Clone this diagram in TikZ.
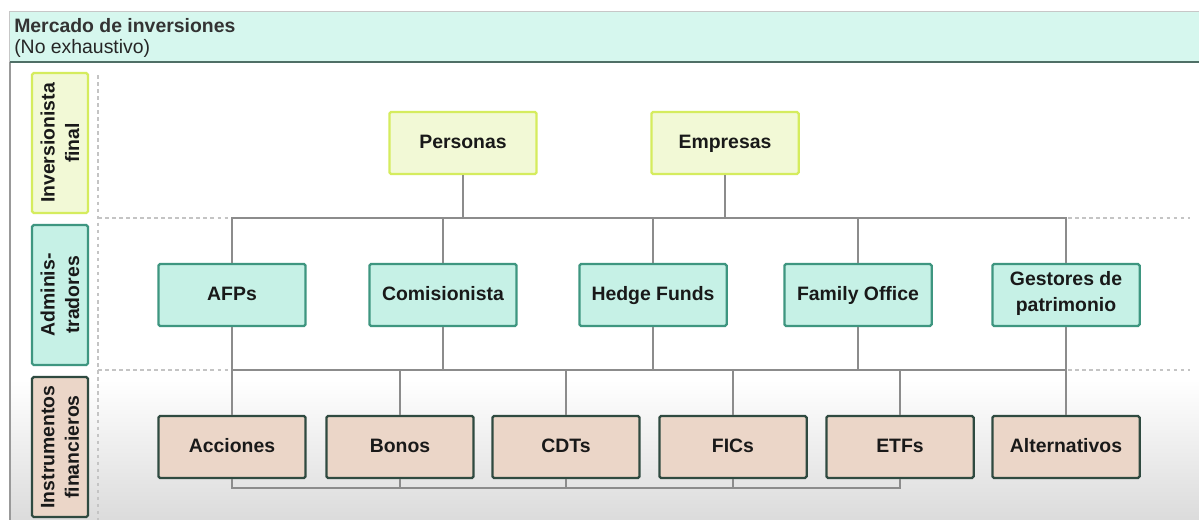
\documentclass[tikz,border=0pt]{standalone}
\usepackage{fontspec}
\setmainfont{Liberation Sans}
\usepackage{tikz}
\usetikzlibrary{calc}

\definecolor{headfill}{HTML}{D6F7EE}
\definecolor{headline}{HTML}{4F6F66}
\definecolor{ylwfill}{HTML}{F2F9D6}
\definecolor{ylwline}{HTML}{D5EC5E}
\definecolor{cynfill}{HTML}{C6F1E6}
\definecolor{cynline}{HTML}{3E9680}
\definecolor{tanfill}{HTML}{EBD6C8}
\definecolor{tanline}{HTML}{2F4A40}
\definecolor{conn}{HTML}{8C8C8C}
\definecolor{sep}{HTML}{C4C4C4}

\begin{document}
\begin{tikzpicture}[x=0.025cm,y=-0.025cm,
                    box/.style={draw,line width=1.6pt,rounded corners=1.2pt,minimum width=3.68cm,minimum height=1.55cm,
                        align=center,inner sep=2pt,text=black!90,font=\fontsize{13.8}{18.5}\selectfont\bfseries,
                        execute at begin node={\strut}},
                    investor/.style={box,draw=ylwline,fill=ylwfill},
                    manager/.style={box,draw=cynline,fill=cynfill},
                    instrument/.style={box,draw=tanline,fill=tanfill},
                    tier/.style={draw,line width=1.6pt,rounded corners=1.2pt,rotate=90,minimum width=3.5cm,minimum height=1.4cm,
                        align=center,inner sep=1pt,text=black!90,font=\fontsize{13.8}{17.5}\selectfont\bfseries},
                    link/.style={draw=conn,line width=1.2pt},
                    guide/.style={draw=sep,line width=0.9pt,dash pattern=on 2.5pt off 2.5pt}]
                    \useasboundingbox (0,0) rectangle (1199,520);
                    \fill[white] (0,0) rectangle (1199,520);
                    \shade[top color=white,bottom color=black!14] (10,380) rectangle (1199,520);
                    \draw[black!22,line width=0.8pt] (10,530) -- (10,12) -- (1199,12);
                    \draw[black!40,line width=1pt] (10,62) -- (10,530);
                    \fill[headfill] (10,12) rectangle (1199,62);
                    \draw[headline,line width=1.6pt] (10,62) -- (1199,62);

                    \node[anchor=west,inner sep=0pt,text=black!80,font=\fontsize{13.8}{16}\selectfont\bfseries] (title) at (14,26) {Mercado de inversiones};
                    \node[anchor=west,inner sep=0pt,text=black!85,font=\fontsize{13.8}{16}\selectfont] (note) at (14,48) {(No exhaustivo)};

                    \draw[guide] (98,75) -- (98,520);
                    \draw[guide] (98,218) -- (1190,218);
                    \draw[guide] (98,370) -- (1190,370);

                    \node[tier,draw=ylwline,fill=ylwfill] (t1) at (60,143) {Inversionista\\final};
                    \node[tier,draw=cynline,fill=cynfill] (t2) at (60,295) {Adminis-\\tradores};
                    \node[tier,draw=tanline,fill=tanfill] (t3) at (60,447) {Instrumentos\\financieros};

                    \node[investor] (inv1) at (463,143) {Personas};
                    \node[investor] (inv2) at (725,143) {Empresas};

                    \node[manager] (adm1) at (232,295) {AFPs};
                    \node[manager] (adm2) at (443,295) {Comisionista};
                    \node[manager] (adm3) at (653,295) {Hedge Funds};
                    \node[manager] (adm4) at (858,295) {Family Office};
                    \node[manager] (adm5) at (1066,295) {Gestores de\\patrimonio};

                    \node[instrument] (ins1) at (232,447) {Acciones};
                    \node[instrument] (ins2) at (400,447) {Bonos};
                    \node[instrument] (ins3) at (566,447) {CDTs};
                    \node[instrument] (ins4) at (733,447) {FICs};
                    \node[instrument] (ins5) at (900,447) {ETFs};
                    \node[instrument] (ins6) at (1066,447) {Alternativos};

                    \coordinate (busA) at (0,218);
                    \coordinate (busB) at (0,370);
                    \coordinate (busC) at (0,488);

                    \draw[link] (inv1.south) -- (inv1.south |- busA);
                    \draw[link] (inv2.south) -- (inv2.south |- busA);
                    \draw[link] (adm1.north) -- (adm1.north |- busA) -- (adm5.north |- busA) -- (adm5.north);
                    \draw[link] (adm2.north) -- (adm2.north |- busA);
                    \draw[link] (adm3.north) -- (adm3.north |- busA);
                    \draw[link] (adm4.north) -- (adm4.north |- busA);

                    \draw[link] (adm1.south) -- (adm1.south |- busB) -- (ins6.north |- busB);
                    \draw[link] (adm2.south) -- (adm2.south |- busB);
                    \draw[link] (adm3.south) -- (adm3.south |- busB);
                    \draw[link] (adm4.south) -- (adm4.south |- busB);
                    \draw[link] (adm5.south) -- (ins6.north);
                    \draw[link] (ins1.north) -- (ins1.north |- busB);
                    \draw[link] (ins2.north) -- (ins2.north |- busB);
                    \draw[link] (ins3.north) -- (ins3.north |- busB);
                    \draw[link] (ins4.north) -- (ins4.north |- busB);
                    \draw[link] (ins5.north) -- (ins5.north |- busB);

                    \draw[link] (ins1.south) -- (ins1.south |- busC) -- (ins5.south |- busC) -- (ins5.south);
                    \draw[link] (ins2.south) -- (ins2.south |- busC);
                    \draw[link] (ins3.south) -- (ins3.south |- busC);
                    \draw[link] (ins4.south) -- (ins4.south |- busC);
                \end{tikzpicture}
\end{document}
